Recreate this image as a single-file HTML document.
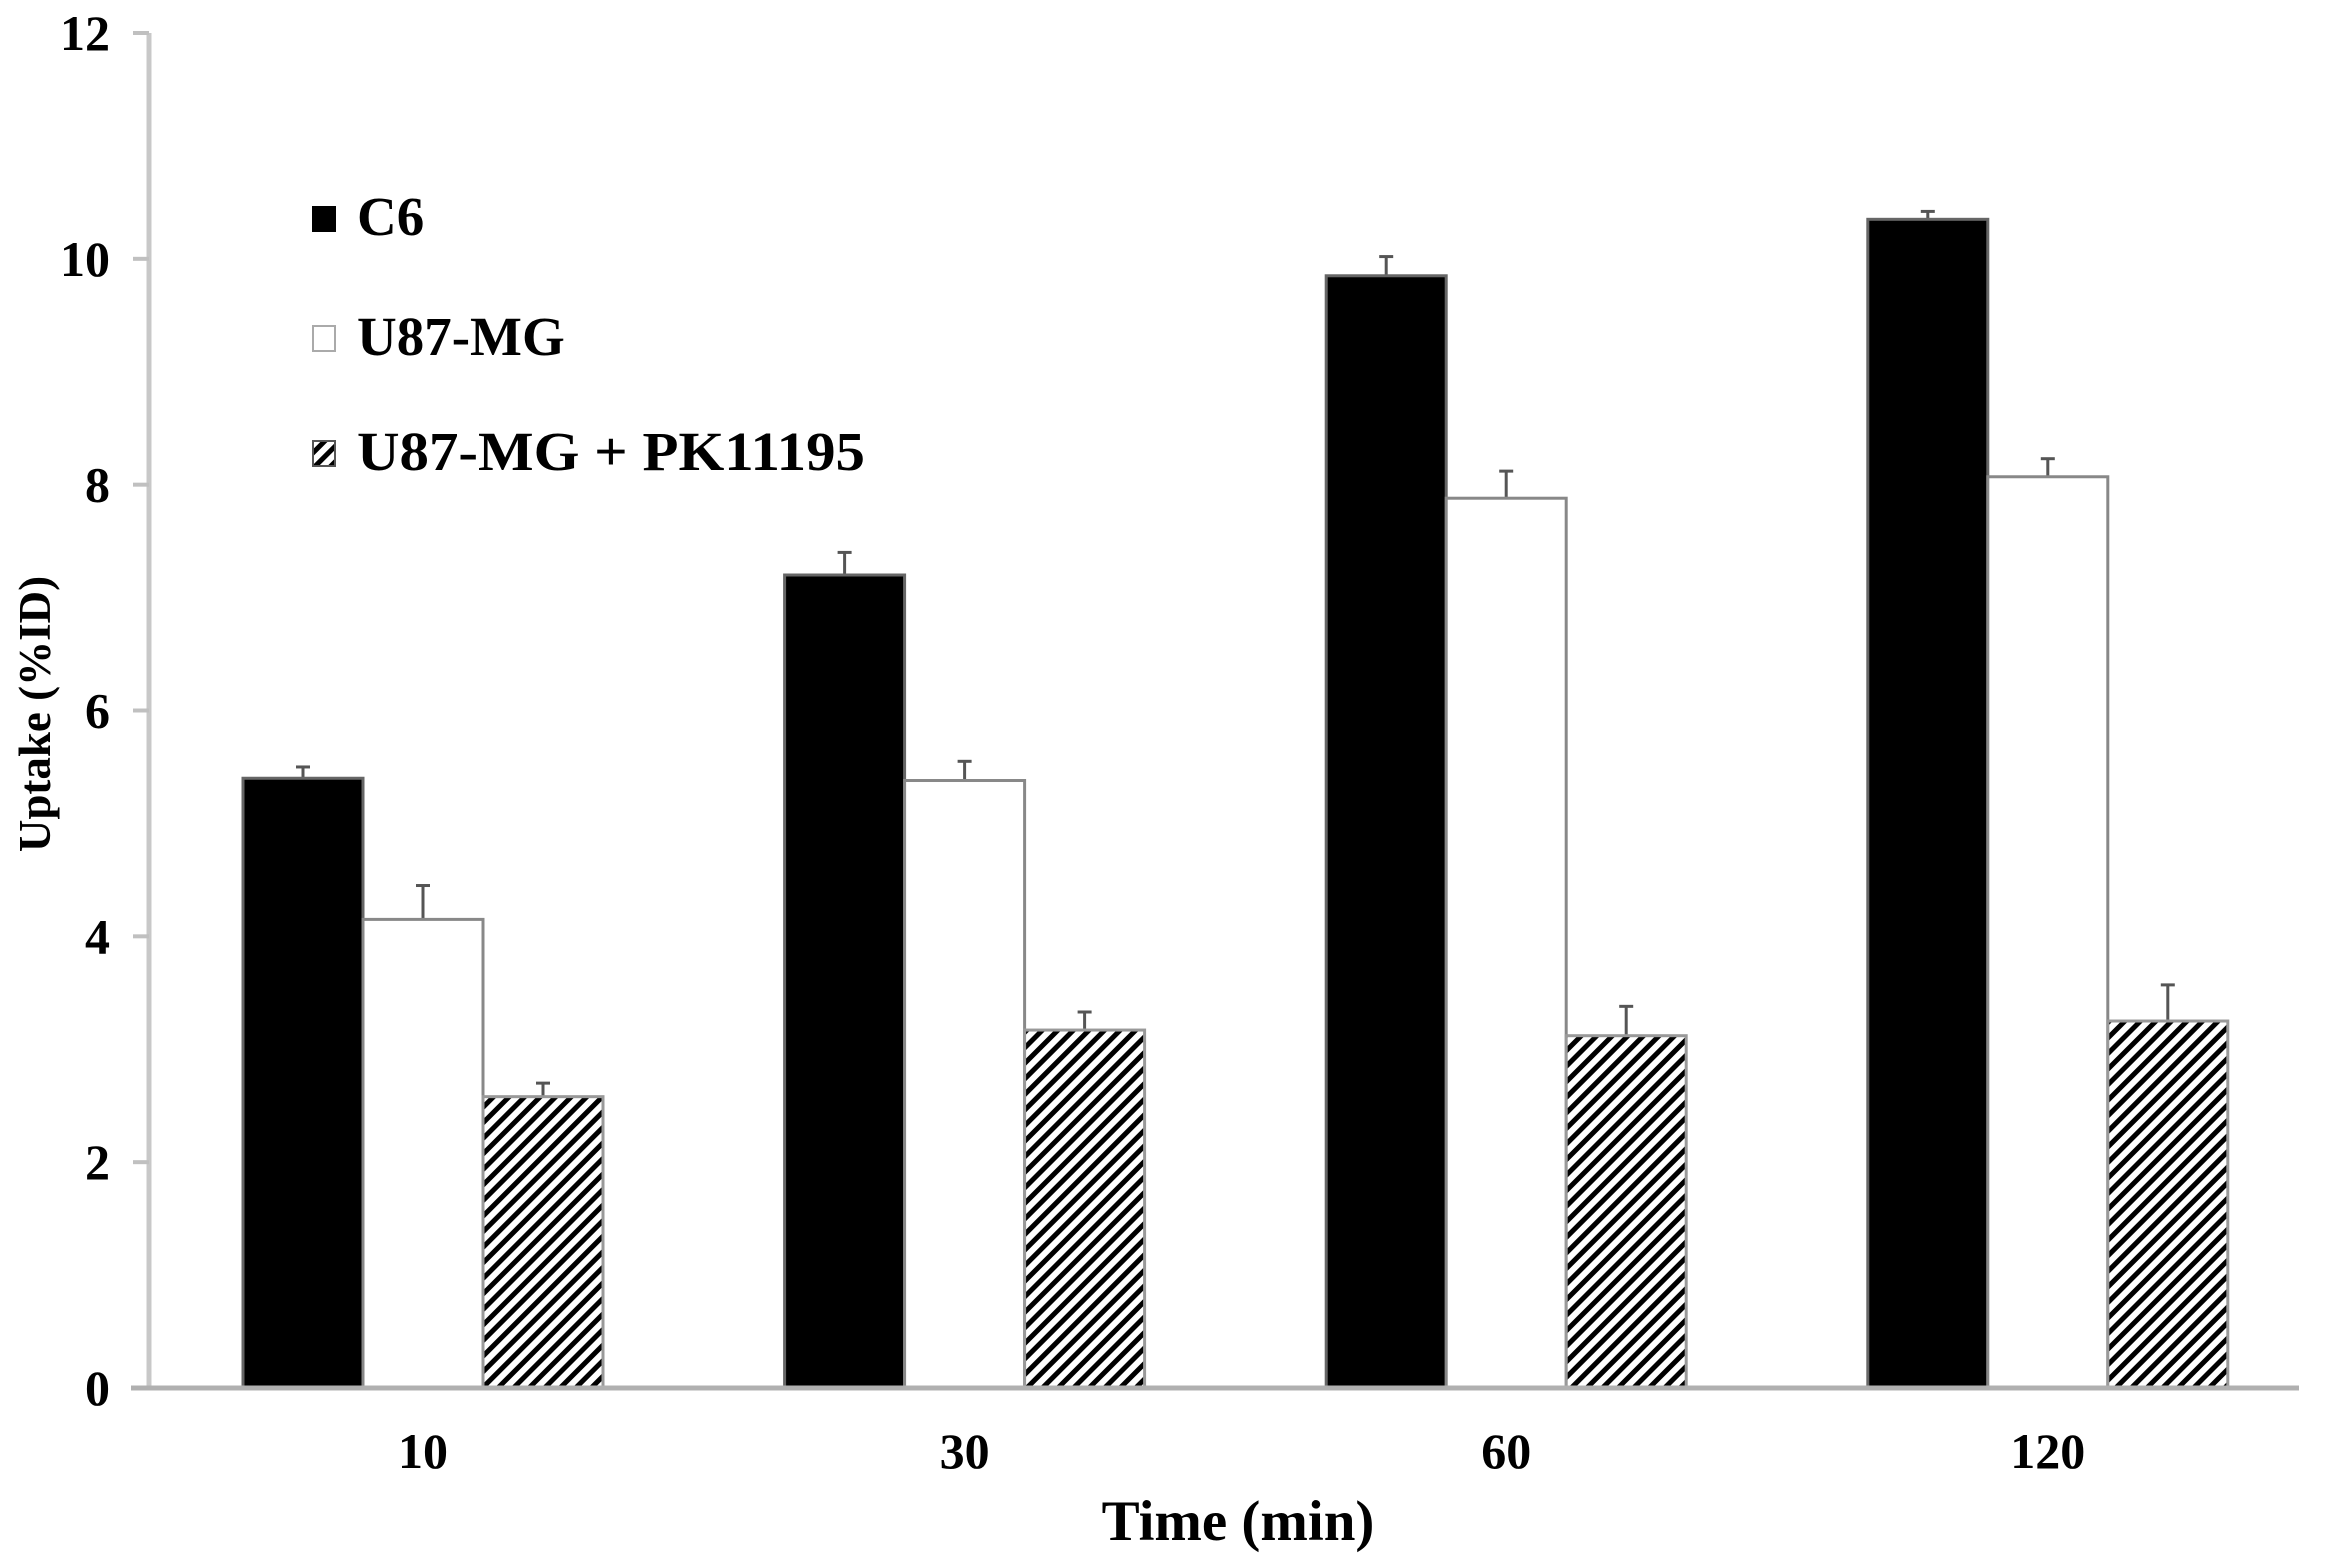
<!DOCTYPE html>
<html><head><meta charset="utf-8"><style>
body{margin:0;background:#fff}
text{font-family:"Liberation Serif",serif;font-weight:bold;fill:#000}
</style></head><body>
<svg id="chart" width="2333" height="1553" viewBox="0 0 2333 1553" xmlns="http://www.w3.org/2000/svg">
<defs>
<pattern id="hatch" patternUnits="userSpaceOnUse" width="11" height="11" patternTransform="rotate(45)">
<rect width="11" height="11" fill="#fff"/>
<rect x="0" y="0" width="5" height="11" fill="#000"/>
</pattern>
</defs>
<g id="plot"></g>
<text x="0" y="0" font-size="45" text-anchor="middle" transform="translate(50,714) rotate(-90)">Uptake (%ID)</text>
<text x="1238" y="1540" font-size="57" text-anchor="middle">Time (min)</text>
<g>
<rect x="312" y="206" width="24" height="26" fill="#000"/>
<text x="357" y="235" font-size="55">C6</text>
<rect x="313" y="326" width="22" height="25" fill="#fff" stroke="#aaa" stroke-width="2"/>
<text x="357" y="355" font-size="55">U87-MG</text>
<rect x="313" y="441" width="22" height="25" fill="url(#hatch)" stroke="#555" stroke-width="2"/>
<text x="357" y="470" font-size="55" textLength="508" lengthAdjust="spacingAndGlyphs">U87-MG + PK11195</text>
</g>
</svg>
<script>
const categories = ["10","30","60","120"];
const c6Values = [5.4, 7.2, 9.85, 10.35];
const c6Errors = [0.1, 0.2, 0.17, 0.07];
const u87Values = [4.15, 5.38, 7.88, 8.07];
const u87Errors = [0.3, 0.17, 0.24, 0.16];
const pkValues = [2.58, 3.17, 3.12, 3.25];
const pkErrors = [0.12, 0.16, 0.26, 0.32];
const yTicks = [0, 2, 4, 6, 8, 10, 12];

const NS = "http://www.w3.org/2000/svg";
const g = document.getElementById("plot");
const x0 = 149, x1 = 2299, yBase = 1388, yTop = 33, yMax = 12;
const y = v => yBase - (v / yMax) * (yBase - yTop);
const groupW = 541.6, firstCenter = 423;
const xCenter = i => firstCenter + groupW * i;
const barW = 120;
function mk(tag, attrs){const e=document.createElementNS(NS,tag);for(const k in attrs)e.setAttribute(k,attrs[k]);g.appendChild(e);return e;}

let ax = mk("line",{x1:x0,y1:yTop,x2:x0,y2:yBase,stroke:"#c8c8c8","stroke-width":5});


yTicks.forEach(t=>{
  const l = mk("line",{x1:x0-16,y1:y(t),x2:x0,y2:y(t),stroke:"#c0c0c0","stroke-width":4});
  
  
  const tx = mk("text",{x:110,y:y(t)+17,"font-size":50,"text-anchor":"end"});
  tx.textContent = t;
  
  
});

const series = [
  {vals:c6Values, errs:c6Errors, fill:"#000", stroke:"#666", name:"c6"},
  {vals:u87Values, errs:u87Errors, fill:"#fff", stroke:"#888", name:"u87"},
  {vals:pkValues, errs:pkErrors, fill:"url(#hatch)", stroke:"#999", name:"u87-pk"}
];
categories.forEach((c,i)=>{
  series.forEach((s,j)=>{
    const bx = xCenter(i) + (j-1.5)*barW;
    const v = s.vals[i], e = s.errs[i];
    const top = y(v + e);
    const el = mk("line",{x1:bx+barW/2,y1:top,x2:bx+barW/2,y2:y(v),stroke:"#555","stroke-width":3});
    
    
    const cap = mk("line",{x1:bx+barW/2-7,y1:top,x2:bx+barW/2+7,y2:top,stroke:"#555","stroke-width":3});
    
    
    const r = mk("rect",{x:bx,y:y(v),width:barW,height:yBase-y(v),fill:s.fill,stroke:s.stroke,"stroke-width":3});
    
    
  });
  const lab = mk("text",{x:xCenter(i),y:1468,"font-size":50,"text-anchor":"middle"});
  lab.textContent = c;
  
  
});
let xa = mk("line",{x1:x0-18,y1:yBase,x2:x1,y2:yBase,stroke:"#b0b0b0","stroke-width":5});


</script>
</body></html>
